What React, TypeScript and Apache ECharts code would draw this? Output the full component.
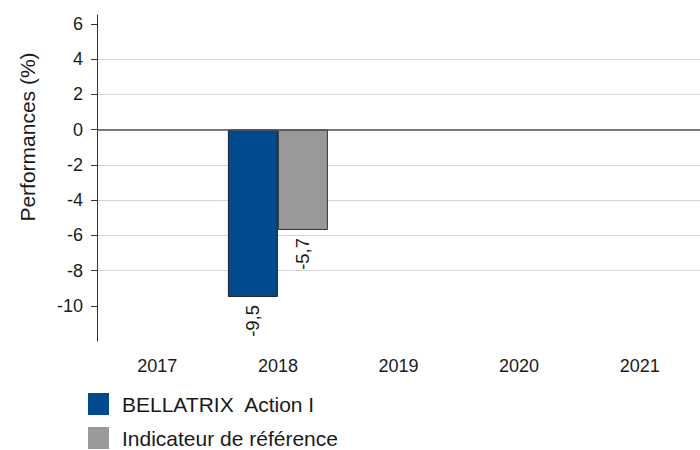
import React, { useEffect, useRef } from "react";
import * as echarts from "echarts";

const categories = ["2017", "2018", "2019", "2020", "2021"];
const fundValues: (number | null)[] = [null, -9.5, null, null, null];
const benchmarkValues: (number | null)[] = [null, -5.7, null, null, null];
const seriesNames = ["BELLATRIX  Action I", "Indicateur de référence"];
const yTickValues = [-10, -8, -6, -4, -2, 0, 2, 4, 6];
const yAxisTitle = "Performances (%)";

const FONT = "Liberation Sans, Arial, sans-serif";
const TEXT = "#1a1a1a";

export default function App() {
  const ref = useRef<HTMLDivElement>(null);
  useEffect(() => {
    document.body.style.margin = "0";
    if (!ref.current) return;
    const chart = echarts.init(ref.current, null, { renderer: "svg" });
    const label = {
      show: true,
      position: "bottom" as const,
      rotate: 90,
      align: "right" as const,
      verticalAlign: "middle" as const,
      distance: 8,
      fontSize: 18.5,
      fontFamily: FONT,
      color: TEXT,
      formatter: (p: any) => String(p.value).replace(".", ","),
    };
    const legendCommon = {
      orient: "vertical",
      left: 88,
      padding: 0,
      icon: "rect",
      itemWidth: 21,
      itemHeight: 22,
      itemStyle: { borderWidth: 0 },
      textStyle: { fontSize: 21, fontFamily: FONT, color: TEXT, padding: [0, 0, 0, 8] },
    };
    chart.setOption({
      animation: false,
      backgroundColor: "#ffffff",
      textStyle: { fontFamily: FONT },
      grid: { left: 97, right: 0, top: 15, bottom: 109, containLabel: false },
      legend: [
        { ...legendCommon, top: 393, data: [seriesNames[0]] },
        { ...legendCommon, top: 427, data: [seriesNames[1]] },
      ],
      graphic: [
        {
          type: "text",
          x: 27,
          y: 137,
          rotation: Math.PI / 2,
          style: {
            text: yAxisTitle,
            fontSize: 21,
            fontFamily: FONT,
            fill: TEXT,
            align: "center",
            verticalAlign: "middle",
          },
        },
      ],
      xAxis: {
        type: "category",
        data: categories,
        axisLine: { show: false },
        axisTick: { show: false },
        splitLine: { show: false },
        axisLabel: { fontSize: 18, fontFamily: FONT, color: TEXT, margin: 16 },
      },
      yAxis: {
        type: "value",
        min: -12,
        max: 6.5,
        interval: 2,
        axisLine: { show: true, lineStyle: { color: "#333", width: 1 } },
        axisTick: { show: true, length: 6, lineStyle: { color: "#333" }, customValues: yTickValues },
        axisLabel: {
          fontSize: 18,
          fontFamily: FONT,
          color: TEXT,
          margin: 14,
          customValues: yTickValues,
        },
        splitLine: {
          show: true,
          showMinLine: false,
          showMaxLine: false,
          lineStyle: { color: "#d4d4d4", width: 1 },
        },
      },
      series: [
        {
          name: seriesNames[0],
          type: "bar",
          data: fundValues,
          barWidth: 50,
          barGap: "0%",
          itemStyle: { color: "#004a8d", borderColor: "#222", borderWidth: 1 },
          label,
          markLine: {
            silent: true,
            symbol: "none",
            label: { show: false },
            lineStyle: { color: "#555", width: 1.5, type: "solid" },
            data: [{ yAxis: 0 }],
          },
        },
        {
          name: seriesNames[1],
          type: "bar",
          data: benchmarkValues,
          barWidth: 50,
          barGap: "0%",
          itemStyle: { color: "#999999", borderColor: "#333", borderWidth: 1 },
          label,
        },
      ],
    });
    return () => chart.dispose();
  }, []);
  return <div ref={ref} style={{ width: 700, height: 450 }} />;
}
